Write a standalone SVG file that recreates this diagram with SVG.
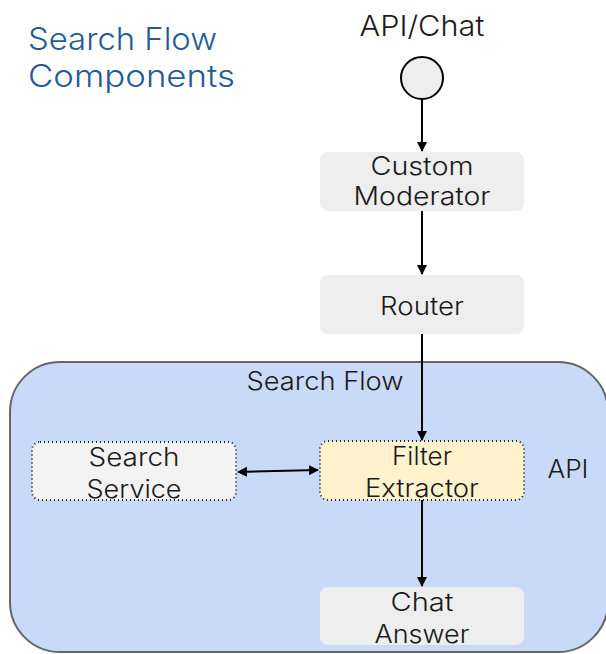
<svg xmlns="http://www.w3.org/2000/svg" width="606" height="654" viewBox="0 0 606 654">
  <defs>
    <marker id="arrow" viewBox="0 0 10 10" refX="9" refY="5" markerWidth="5" markerHeight="5" orient="auto-start-reverse" markerUnits="strokeWidth">
      <path d="M0,0 L10,5 L0,10 z" fill="#000"/>
    </marker>
    <style>
      text { font-family: "Inter", "Noto Sans", "Liberation Sans", sans-serif; font-weight: 300; fill: #1a1a1a; }
      .title { fill: #1f5c99; font-size: 31px; }
      .lbl { font-size: 25px; text-anchor: middle; }
      .box { fill: #eeeeee; stroke: none; }
      .dotted { stroke: #222; stroke-width: 2; stroke-dasharray: 1 3; }
      .edge { stroke: #000; stroke-width: 2; fill: none; marker-end: url(#arrow); }
    </style>
  </defs>

  <rect width="606" height="654" fill="#ffffff"/>

  <!-- heading -->
  <g id="heading">
    <text class="title" x="28" y="50" textLength="189" lengthAdjust="spacingAndGlyphs">Search Flow</text>
    <text class="title" x="28" y="87" textLength="207" lengthAdjust="spacingAndGlyphs">Components</text>
  </g>

  <!-- container for the search flow -->
  <g id="search-flow">
    <rect x="10" y="362" width="598" height="290" rx="50" ry="50" fill="#c9daf8" stroke="#666666" stroke-width="2"/>
    <text class="lbl" x="325" y="390" textLength="157" lengthAdjust="spacingAndGlyphs">Search Flow</text>
    <text class="lbl" x="568" y="478" textLength="41" lengthAdjust="spacingAndGlyphs">API</text>
  </g>

  <g id="entry">
    <text class="lbl" x="422" y="36" style="font-size:28px" textLength="125" lengthAdjust="spacingAndGlyphs">API/Chat</text>
    <circle cx="422" cy="78" r="21" fill="#eeeeee" stroke="#000" stroke-width="2"/>
  </g>

  <g id="custom-moderator">
    <rect class="box" x="320" y="152" width="204" height="59" rx="8"/>
    <text class="lbl" x="422" y="175" textLength="103" lengthAdjust="spacingAndGlyphs">Custom</text>
    <text class="lbl" x="422" y="205" textLength="137" lengthAdjust="spacingAndGlyphs">Moderator</text>
  </g>

  <g id="router">
    <rect class="box" x="320" y="275" width="204" height="59" rx="8"/>
    <text class="lbl" x="422" y="315" textLength="84" lengthAdjust="spacingAndGlyphs">Router</text>
  </g>

  <g id="search-service">
    <rect class="dotted" x="32" y="442" width="204" height="58" rx="8" fill="#f3f3f3"/>
    <text class="lbl" x="134" y="466" textLength="91" lengthAdjust="spacingAndGlyphs">Search</text>
    <text class="lbl" x="134" y="498" textLength="95" lengthAdjust="spacingAndGlyphs">Service</text>
  </g>

  <g id="filter-extractor">
    <rect class="dotted" x="320" y="441" width="204" height="59" rx="8" fill="#fff2cc"/>
    <text class="lbl" x="422" y="465" textLength="60" lengthAdjust="spacingAndGlyphs">Filter</text>
    <text class="lbl" x="422" y="497" textLength="114" lengthAdjust="spacingAndGlyphs">Extractor</text>
  </g>

  <g id="chat-answer">
    <rect class="box" x="320" y="587" width="204" height="58" rx="8"/>
    <text class="lbl" x="422" y="611" textLength="63" lengthAdjust="spacingAndGlyphs">Chat</text>
    <text class="lbl" x="422" y="643" textLength="95" lengthAdjust="spacingAndGlyphs">Answer</text>
  </g>

  <!-- connectors -->
  <g id="connectors">
    <line class="edge" x1="422" y1="99" x2="422" y2="151"/>
    <line class="edge" x1="422" y1="211" x2="422" y2="274"/>
    <line class="edge" x1="422" y1="334" x2="422" y2="440"/>
    <line class="edge" x1="422" y1="500" x2="422" y2="586"/>
    <line class="edge" x1="238" y1="472" x2="318" y2="470" marker-start="url(#arrow)"/>
  </g>
</svg>
